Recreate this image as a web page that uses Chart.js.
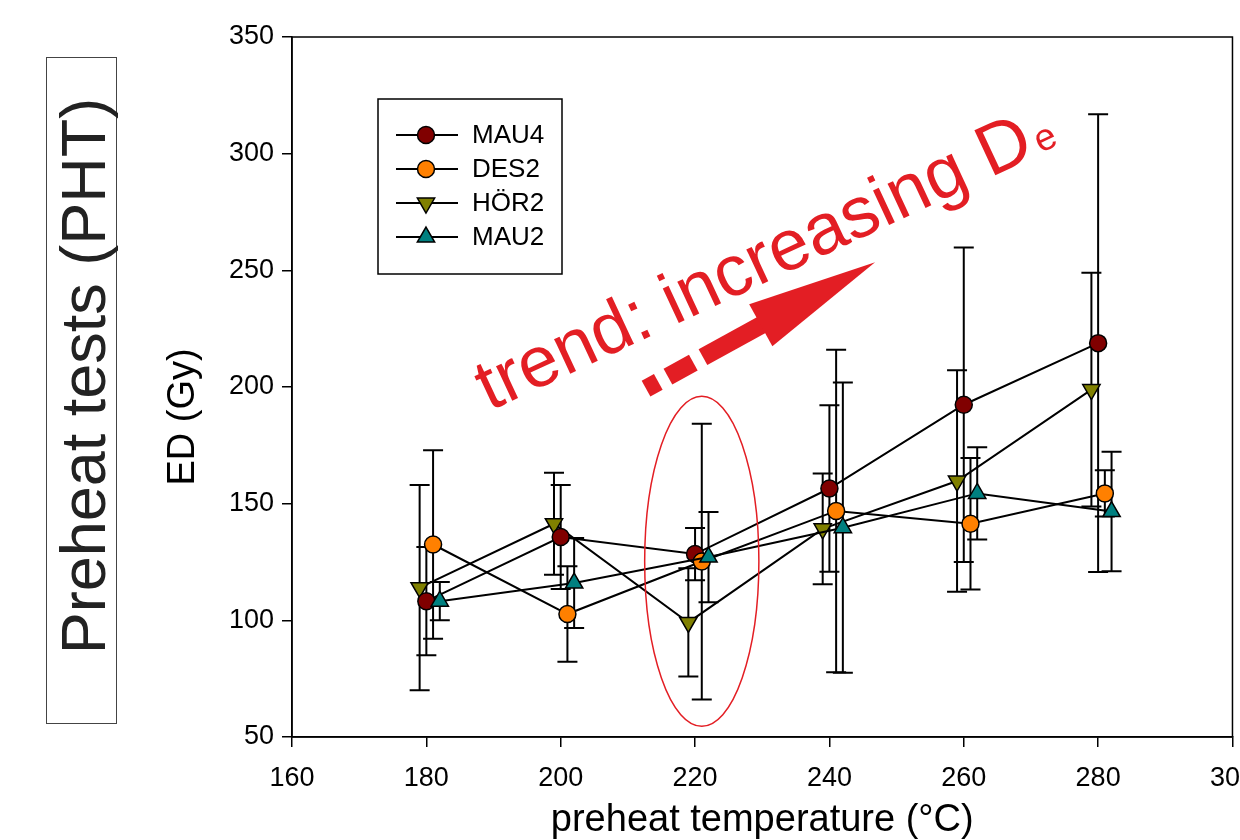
<!DOCTYPE html>
<html>
<head>
<meta charset="utf-8">
<title>Preheat tests (PHT)</title>
<script src="https://cdn.jsdelivr.net/npm/chart.js@4.4.0/dist/chart.umd.min.js"></script>
<style>
	html, body { margin: 0; padding: 0; background: #fff; overflow: hidden; }
	#wrap { width: 1270px; height: 840px; }
</style>
</head>
<body>
<div id="wrap"><canvas id="phtChart" width="1270" height="840"></canvas></div>
<script>
const FONT = "'Liberation Sans', Arial, sans-serif";
const RED = '#e31e24';

// preheat temperatures (°C); every series is nudged sideways a bit so the bars stay readable
const preheatTemps = [180, 200, 220, 240, 260, 280];
const seriesNames = ['MAU4', 'DES2', 'HÖR2', 'MAU2'];
const tempOffset = [0, 1, -1, 2];

// equivalent dose (Gy) and its error
const mau4ED  = [108.2, 135.7, 128.4, 156.5, 192.4, 218.8];
const mau4Err = [23.2, 22.3, 11.2, 35.7, 67.4, 98.1];
const des2ED  = [132.5, 102.7, 125.2, 146.9, 141.4, 154.4];
const des2Err = [40.4, 20.5, 59.1, 69.1, 28.2, 9.9];
const hor2ED  = [114.0, 141.4, 99.1, 139.2, 159.7, 198.9];
const hor2Err = [44.0, 21.9, 23.2, 23.7, 47.5, 50.1];
const mau2ED  = [108.2, 116.0, 127.1, 139.7, 154.4, 146.6];
const mau2Err = [8.2, 19.3, 19.3, 62.2, 19.8, 25.6];

const xTicks = [160, 180, 200, 220, 240, 260, 280, 300];
const yTicks = [50, 100, 150, 200, 250, 300, 350];

// hand drawn annotations, anchored in data units
const ellipseBox = { xMin: 212.5, xMax: 229.5, yMin: 54.6, yMax: 196 };
const arrowFrom = { x: 212.7, y: 199.3 };
const arrowTo = { x: 246.8, y: 253.5 };
const trendAnchor = { x: 189.4, y: 189.6 };

const seriesED = [mau4ED, des2ED, hor2ED, mau2ED];
const seriesErr = [mau4Err, des2Err, hor2Err, mau2Err];
const seriesColors = ['#800000', '#ff8000', '#808000', '#008080'];
const seriesMarkers = ['circle', 'circle', 'triangle', 'triangle'];
const seriesRotation = [0, 0, 180, 0];
const seriesDrawOrder = [2, 1, 3, 0]; // MAU2 on top, HÖR2 at the bottom

function markerRadius(i) {
	return seriesMarkers[i] === 'circle' ? 8.5 : 10;
}

function buildDatasets() {
	return seriesNames.map((name, i) => ({
		label: name,
		data: preheatTemps.map((t, j) => ({ x: t + tempOffset[i], y: seriesED[i][j], err: seriesErr[i][j] })),
		borderColor: '#000',
		borderWidth: 2,
		backgroundColor: seriesColors[i],
		pointBackgroundColor: seriesColors[i],
		pointBorderColor: '#000',
		pointBorderWidth: 1.5,
		pointStyle: seriesMarkers[i],
		pointRotation: seriesRotation[i],
		pointRadius: markerRadius(i),
		pointHoverRadius: markerRadius(i),
		tension: 0,
		fill: false,
		order: seriesDrawOrder[i]
	}));
}

// frame + error bars, drawn under the lines and markers
const errorBarPlugin = {
	id: 'errorBars',
	beforeDatasetsDraw(chart) {
		const ctx = chart.ctx;
		const xs = chart.scales.x;
		const ys = chart.scales.y;
		const a = chart.chartArea;
		ctx.save();
		ctx.strokeStyle = '#000';
		ctx.lineWidth = 1.5;
		ctx.strokeRect(a.left, a.top, a.right - a.left, a.bottom - a.top);
		ctx.lineWidth = 2;
		chart.data.datasets.forEach(ds => {
			ds.data.forEach(p => {
				const px = xs.getPixelForValue(p.x);
				const top = ys.getPixelForValue(p.y + p.err);
				const bot = ys.getPixelForValue(p.y - p.err);
				ctx.beginPath();
				ctx.moveTo(px, top);
				ctx.lineTo(px, bot);
				ctx.moveTo(px - 10, top);
				ctx.lineTo(px + 10, top);
				ctx.moveTo(px - 10, bot);
				ctx.lineTo(px + 10, bot);
				ctx.stroke();
			});
		});
		ctx.restore();
	}
};

function drawMarker(ctx, i, x, y) {
	ctx.fillStyle = seriesColors[i];
	ctx.strokeStyle = '#000';
	ctx.lineWidth = 1.5;
	Chart.helpers.drawPoint(ctx, {
		pointStyle: seriesMarkers[i],
		rotation: seriesRotation[i],
		radius: markerRadius(i),
		borderWidth: 1.5
	}, x, y);
}

function drawLegend(chart) {
	const ctx = chart.ctx;
	const a = chart.chartArea;
	const bx = a.left + 86, by = a.top + 62;
	ctx.save();
	ctx.strokeStyle = '#000';
	ctx.lineWidth = 1.5;
	ctx.strokeRect(bx, by, 184, 175);
	ctx.font = '26px ' + FONT;
	ctx.textBaseline = 'middle';
	ctx.textAlign = 'left';
	seriesNames.forEach((name, i) => {
		const y = by + 36 + i * 34;
		ctx.strokeStyle = '#000';
		ctx.lineWidth = 2;
		ctx.beginPath();
		ctx.moveTo(bx + 18, y);
		ctx.lineTo(bx + 80, y);
		ctx.stroke();
		drawMarker(ctx, i, bx + 48, y);
		ctx.fillStyle = '#000';
		ctx.fillText(name, bx + 94, y + 1);
	});
	ctx.restore();
}

function drawSideLabels(chart) {
	const ctx = chart.ctx;
	ctx.save();
	// boxed panel title on the far left
	ctx.strokeStyle = '#444';
	ctx.lineWidth = 1;
	ctx.strokeRect(46.5, 57.5, 70, 666);
	ctx.fillStyle = '#222';
	ctx.font = '63px ' + FONT;
	ctx.textAlign = 'center';
	ctx.textBaseline = 'alphabetic';
	ctx.translate(105, 376);
	ctx.rotate(-Math.PI / 2);
	ctx.fillText('Preheat tests (PHT)', 0, 0);
	ctx.restore();

	ctx.save();
	ctx.fillStyle = '#000';
	ctx.font = '38px ' + FONT;
	ctx.textAlign = 'center';
	ctx.textBaseline = 'alphabetic';
	ctx.translate(194, 417);
	ctx.rotate(-Math.PI / 2);
	ctx.fillText('ED (Gy)', 0, 0);
	ctx.restore();
}

function drawTrend(chart) {
	const ctx = chart.ctx;
	const xs = chart.scales.x;
	const ys = chart.scales.y;

	// ellipse round the 220 °C group
	const ex0 = xs.getPixelForValue(ellipseBox.xMin), ex1 = xs.getPixelForValue(ellipseBox.xMax);
	const ey0 = ys.getPixelForValue(ellipseBox.yMax), ey1 = ys.getPixelForValue(ellipseBox.yMin);
	ctx.save();
	ctx.strokeStyle = RED;
	ctx.lineWidth = 1.5;
	ctx.beginPath();
	ctx.ellipse((ex0 + ex1) / 2, (ey0 + ey1) / 2, (ex1 - ex0) / 2, (ey1 - ey0) / 2, 0, 0, Math.PI * 2);
	ctx.stroke();
	ctx.restore();

	// dashed then solid arrow
	const x0 = xs.getPixelForValue(arrowFrom.x), y0 = ys.getPixelForValue(arrowFrom.y);
	const x1 = xs.getPixelForValue(arrowTo.x), y1 = ys.getPixelForValue(arrowTo.y);
	const len = Math.hypot(x1 - x0, y1 - y0);
	const k = len / 261.5;
	ctx.save();
	ctx.fillStyle = RED;
	ctx.translate(x0, y0);
	ctx.rotate(Math.atan2(y1 - y0, x1 - x0));
	ctx.fillRect(0, -9, 14 * k, 18);
	ctx.fillRect(25 * k, -9, 29 * k, 18);
	ctx.fillRect(65 * k, -9, 67 * k, 18);
	ctx.beginPath();
	ctx.moveTo(131 * k, -24);
	ctx.lineTo(len, 0);
	ctx.lineTo(131 * k, 24);
	ctx.closePath();
	ctx.fill();
	ctx.restore();

	// slanted label
	ctx.save();
	ctx.fillStyle = RED;
	ctx.translate(xs.getPixelForValue(trendAnchor.x), ys.getPixelForValue(trendAnchor.y));
	ctx.rotate(-25 * Math.PI / 180);
	ctx.font = '72px ' + FONT;
	ctx.textBaseline = 'alphabetic';
	ctx.textAlign = 'left';
	const main = 'trend: increasing D';
	ctx.fillText(main, 0, 0);
	const w = ctx.measureText(main).width;
	ctx.font = '38px ' + FONT;
	ctx.fillText('e', w + 4, -1);
	ctx.restore();
}

const annotationPlugin = {
	id: 'annotations',
	afterDraw(chart) {
		drawSideLabels(chart);
		drawTrend(chart);
		drawLegend(chart);
	}
};

function initChart() {
	const ctx = document.getElementById('phtChart').getContext('2d');
	return new Chart(ctx, {
		type: 'line',
		data: { datasets: buildDatasets() },
		plugins: [errorBarPlugin, annotationPlugin],
		options: {
			responsive: false,
			animation: false,
			events: [],
			layout: { padding: { left: 0, top: 37, right: 20, bottom: 0 } },
			plugins: {
				legend: { display: false },
				tooltip: { enabled: false }
			},
			scales: {
				x: {
					type: 'linear',
					min: 160,
					max: 300,
					afterBuildTicks: scale => { scale.ticks = xTicks.map(v => ({ value: v })); },
					afterFit: scale => { scale.height = 103; },
					grid: { drawOnChartArea: false, drawTicks: true, tickLength: 10, color: '#000', lineWidth: 1.5 },
					border: { display: true, color: '#000', width: 1.5 },
					ticks: { color: '#000', font: { family: FONT, size: 27 }, padding: 15, maxRotation: 0 },
					title: {
						display: true,
						text: 'preheat temperature (°C)',
						color: '#000',
						font: { family: FONT, size: 38 },
						padding: { top: 0, bottom: -3 }
					}
				},
				y: {
					type: 'linear',
					min: 50,
					max: 350,
					afterBuildTicks: scale => { scale.ticks = yTicks.map(v => ({ value: v })); },
					afterFit: scale => { scale.width = 292; },
					grid: { drawOnChartArea: false, drawTicks: true, tickLength: 10, color: '#000', lineWidth: 1.5 },
					border: { display: true, color: '#000', width: 1.5 },
					ticks: { color: '#000', font: { family: FONT, size: 27 }, padding: 8 }
				}
			}
		}
	});
}

initChart();
</script>
</body>
</html>
